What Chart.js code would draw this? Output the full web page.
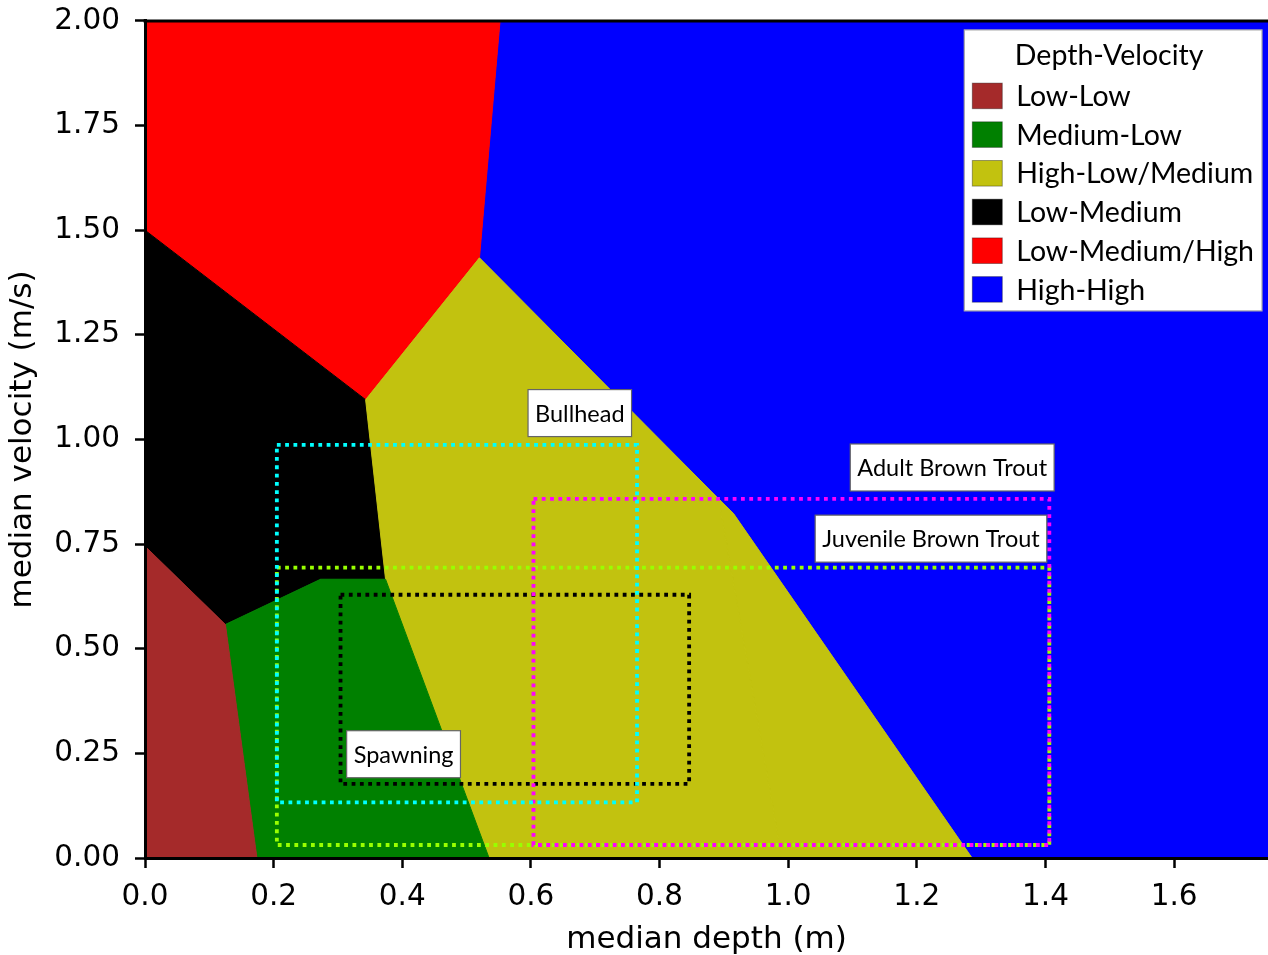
<!DOCTYPE html>
<html>
<head>
<meta charset="utf-8">
<script src="https://cdn.jsdelivr.net/npm/chart.js@4.4.0/dist/chart.umd.min.js"></script>
<style>
html, body { margin: 0; padding: 0; background: #fff; }
</style>
</head>
<body>
<canvas id="habitatChart" width="1268" height="955"></canvas>
<script>
// depth-velocity zones (x = median depth m, y = median velocity m/s)
var zoneNames = ["Low-Low", "Medium-Low", "High-Low/Medium", "Low-Medium", "Low-Medium/High", "High-High"];
var zoneColors = ["#a52a2a", "#008000", "#c2c20f", "#000000", "#ff0000", "#0000ff"];

var lowLowX = [0, 0, 0.125, 0.174, 0];
var lowLowY = [0, 0.745, 0.558, 0, 0];
var medLowX = [0.125, 0.273, 0.374, 0.535, 0.174, 0.125];
var medLowY = [0.558, 0.666, 0.666, 0, 0, 0.558];
var highLowAX = [0.343, 0.520, 0.892, 0.990, 0.535, 0.374, 0.343];
var highLowAY = [1.095, 1.434, 0.858, 0, 0, 0.666, 1.095];
var highLowBX = [0.892, 0.915, 1.286, 0.990, 0.892];
var highLowBY = [0.858, 0.823, 0, 0, 0.858];
var lowMedX = [0, 0.343, 0.374, 0.273, 0.125, 0, 0];
var lowMedY = [1.5, 1.095, 0.666, 0.666, 0.558, 0.745, 1.5];
var lowHighX = [0, 0.552, 0.520, 0.343, 0, 0];
var lowHighY = [2, 2, 1.434, 1.095, 1.5, 2];
var highHighX = [0.552, 1.746, 1.746, 1.286, 0.915, 0.892, 0.520, 0.552];
var highHighY = [2, 2, 0, 0, 0.823, 0.858, 1.434, 2];

// species preference ranges
var speciesNames = ["Bullhead", "Adult Brown Trout", "Juvenile Brown Trout", "Spawning"];
var speciesColors = ["#00ffff", "#ff00ff", "#99ff00", "#000000"];
var depthMin = [0.205, 0.604, 0.205, 0.304];
var depthMax = [0.765, 1.406, 1.406, 0.846];
var velMin = [0.133, 0.031, 0.031, 0.177];
var velMax = [0.987, 0.858, 0.694, 0.629];

// where the species name boxes sit (data units, box centre)
var labelAtX = [0.676, 1.255, 1.222, 0.402];
var labelAtY = [1.063, 0.933, 0.763, 0.248];

var xMax = 1.746;

function toPoints(xs, ys) {
    var pts = [];
    for (var i = 0; i < xs.length; i++) pts.push({x: xs[i], y: ys[i]});
    return pts;
}

function zone(xs, ys, color) {
    return {
        data: toPoints(xs, ys),
        backgroundColor: color,
        borderColor: color,
        borderWidth: 1,
        fill: 'shape',
        pointRadius: 0,
        tension: 0
    };
}

var datasets = [];
// rectangles first so they sit on top
for (var i = 0; i < speciesNames.length; i++) {
    datasets.push({
        data: toPoints(
            [depthMin[i], depthMax[i], depthMax[i], depthMin[i], depthMin[i]],
            [velMax[i], velMax[i], velMin[i], velMin[i], velMax[i]]),
        borderColor: speciesColors[i],
        borderWidth: 3.8,
        borderDash: [3.8, 4.5],
        borderCapStyle: 'butt',
        fill: false,
        pointRadius: 0,
        tension: 0
    });
}
datasets.push(zone(lowLowX, lowLowY, zoneColors[0]));
datasets.push(zone(medLowX, medLowY, zoneColors[1]));
datasets.push(zone(highLowAX, highLowAY, zoneColors[2]));
datasets.push(zone(highLowBX, highLowBY, zoneColors[2]));
datasets.push(zone(lowMedX, lowMedY, zoneColors[3]));
datasets.push(zone(lowHighX, lowHighY, zoneColors[4]));
datasets.push(zone(highHighX, highHighY, zoneColors[5]));

var overlay = {
    id: 'overlay',
    afterDraw: function(chart) {
        var ctx = chart.ctx;
        var a = chart.chartArea;
        var sx = chart.scales.x, sy = chart.scales.y;
        ctx.save();
        // top spine
        ctx.strokeStyle = '#000';
        ctx.lineWidth = 3;
        ctx.beginPath();
        ctx.moveTo(a.left - 1.5, a.top);
        ctx.lineTo(a.right, a.top);
        ctx.stroke();

        // species name boxes
        ctx.font = '23.5px Lato';
        ctx.textAlign = 'center';
        ctx.textBaseline = 'middle';
        for (var i = 0; i < speciesNames.length; i++) {
            var cx = sx.getPixelForValue(labelAtX[i]);
            var cy = sy.getPixelForValue(labelAtY[i]);
            var w = ctx.measureText(speciesNames[i]).width + 14;
            var h = 47;
            ctx.fillStyle = '#fff';
            ctx.fillRect(cx - w / 2, cy - h / 2, w, h);
            ctx.strokeStyle = '#666';
            ctx.lineWidth = 1.2;
            ctx.strokeRect(cx - w / 2, cy - h / 2, w, h);
            ctx.fillStyle = '#000';
            ctx.fillText(speciesNames[i], cx, cy + 1);
        }

        // legend
        ctx.font = '28.5px Lato';
        var maxW = ctx.measureText('Depth-Velocity').width;
        for (var j = 0; j < zoneNames.length; j++) {
            maxW = Math.max(maxW, ctx.measureText(zoneNames[j]).width);
        }
        var bw = 52 + maxW + 8;
        var bh = 281;
        var right = a.right - 6;
        var left = right - bw;
        var top = a.top + 9;
        ctx.fillStyle = '#fff';
        ctx.fillRect(left, top, bw, bh);
        ctx.strokeStyle = '#aaa';
        ctx.lineWidth = 1.2;
        ctx.strokeRect(left, top, bw, bh);
        ctx.fillStyle = '#000';
        ctx.textAlign = 'center';
        ctx.fillText('Depth-Velocity', left + bw / 2 - 4, top + 26);
        ctx.textAlign = 'left';
        for (var k = 0; k < zoneNames.length; k++) {
            var ry = top + 66 + k * 38.7;
            ctx.fillStyle = zoneColors[k];
            ctx.fillRect(left + 8, ry - 12.8, 30, 25.6);
            ctx.strokeStyle = 'rgba(0,0,0,0.35)';
            ctx.lineWidth = 1;
            ctx.strokeRect(left + 8, ry - 12.8, 30, 25.6);
            ctx.fillStyle = '#000';
            ctx.fillText(zoneNames[k], left + 52, ry + 1);
        }
        ctx.restore();
    }
};

var tickFont = {family: 'DejaVu Sans', size: 29.5};
var yTickFont = {family: 'DejaVu Sans', size: 29.5, lineHeight: 0.4};
var titleFont = {family: 'DejaVu Sans', size: 31};

new Chart(document.getElementById('habitatChart'), {
    type: 'line',
    data: {datasets: datasets},
    options: {
        responsive: false,
        animation: false,
        devicePixelRatio: 1,
        events: [],
        layout: {padding: {top: 20, right: 0, bottom: 0, left: 0}},
        plugins: {legend: {display: false}, tooltip: {enabled: false}},
        scales: {
            x: {
                type: 'linear',
                min: 0,
                max: xMax,
                afterFit: function(scale) { scale.height = 97; },
                ticks: {
                    stepSize: 0.2,
                    includeBounds: false,
                    color: '#000',
                    font: tickFont,
                    padding: 12,
                    maxRotation: 0,
                    callback: function(v) { return v.toFixed(1); }
                },
                grid: {drawOnChartArea: false, drawTicks: true, tickLength: 10, tickWidth: 2.5, tickColor: '#000'},
                border: {display: true, color: '#000', width: 3, z: 1},
                title: {display: true, text: 'median depth (m)', color: '#000', font: titleFont, padding: {top: 0, bottom: -4}}
            },
            y: {
                type: 'linear',
                min: 0,
                max: 2,
                afterFit: function(scale) { scale.width = 145; },
                ticks: {
                    stepSize: 0.25,
                    color: '#000',
                    font: yTickFont,
                    padding: 15,
                    callback: function(v) { return v.toFixed(2); }
                },
                grid: {drawOnChartArea: false, drawTicks: true, tickLength: 10, tickWidth: 2.5, tickColor: '#000'},
                border: {display: true, color: '#000', width: 3, z: 1},
                title: {display: true, text: 'median velocity (m/s)', color: '#000', font: titleFont, padding: {top: 4, bottom: 0}}
            }
        }
    },
    plugins: [overlay]
});
</script>
</body>
</html>
